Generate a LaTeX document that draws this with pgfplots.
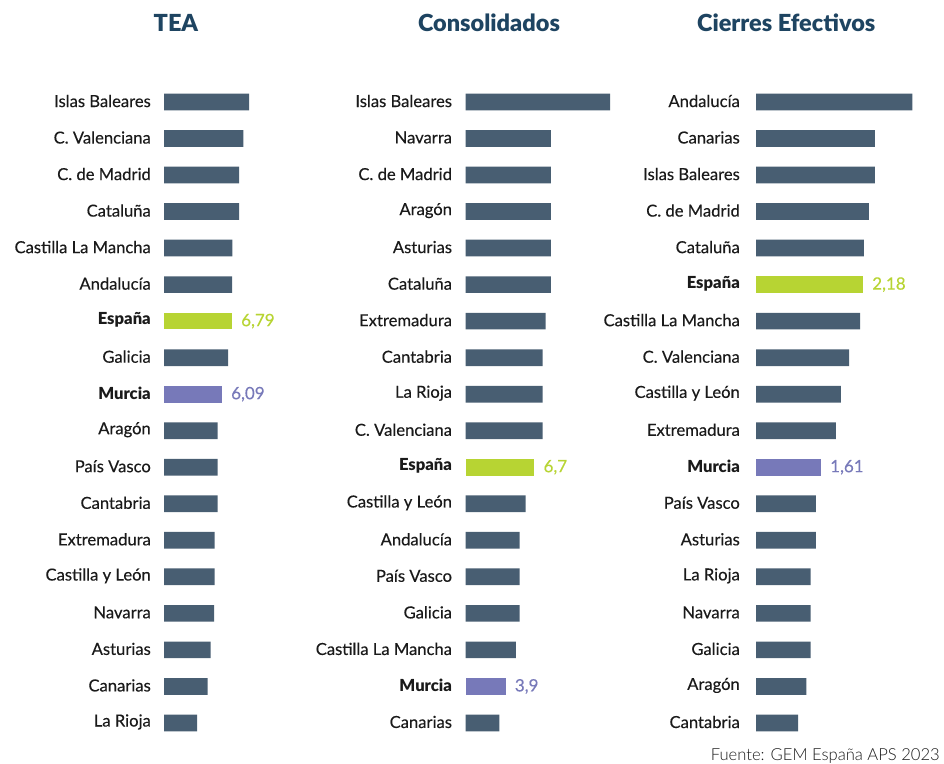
\documentclass[border=0pt]{standalone}
\usepackage{pgfplots}
\pgfplotsset{compat=1.18}
\usepackage{fontspec}
\setmainfont{Lato}
\newfontfamily\heavy{Lato Black}
\newfontfamily\med{Lato}[FakeBold=0.3]
\newfontfamily\light{Lato Light}
\definecolor{barc}{HTML}{485E72}
\definecolor{espc}{HTML}{B7D433}
\definecolor{murc}{HTML}{7779B9}
\definecolor{titc}{HTML}{1E4461}
\definecolor{labc}{HTML}{1A1A1A}
\definecolor{srcc}{HTML}{1A1A1A}
\pgfplotsset{
  panel/.style={
    xbar, bar width=16.7pt, bar shift=0pt,
    scale only axis, height=657.5pt,
    ymin=-0.5, ymax=17.5, y dir=reverse,
    ytick={0,...,17}, xtick=\empty,
    enlargelimits=false,
    axis line style={draw=none}, major tick length=0pt,
    yticklabel style={font=\fontsize{16.6}{18}\selectfont\med, text=labc, inner sep=0pt, anchor=east, yshift=1pt},
    anchor=north west,
    title style={font=\fontsize{23.5}{26}\selectfont\heavy, text=titc, anchor=base},
  },
  valnode/.style={
    point meta=x,
    nodes near coords={\pgfmathprintnumber[use comma,fixed,precision=2,assume math mode=true]{\pgfplotspointmeta}},
    nodes near coords style={anchor=west, inner sep=0pt, xshift=9pt, font=\fontsize{17}{19}\selectfont\med, text=#1},
  },
}
\begin{document}
\begin{tikzpicture}
\path[use as bounding box] (0,0) rectangle (944pt,-763pt);
% ---------------- TEA
\begin{axis}[panel, at={(164pt,-83.7pt)}, width=130pt, xmin=2.03, xmax=11.13,
  title={TEA}, title style={at={(axis description cs:0.092,1.0706)}},
  yticklabel style={xshift=-13pt},
  yticklabels={Islas Baleares, C. Valenciana, C. de Madrid, Cataluña, Castilla La Mancha, Andalucía, {\heavy España}, Galicia, {\heavy Murcia}, Aragón, País Vasco, Cantabria, Extremadura, Castilla y León, Navarra, Asturias, Canarias, La Rioja}]
\addplot[fill=barc, draw=none] coordinates {(7.98,0) (7.58,1) (7.29,2) (7.28,3) (6.81,4) (6.80,5) (6.51,7) (5.79,9) (5.79,10) (5.78,11) (5.58,12) (5.57,13) (5.53,14) (5.30,15) (5.09,16) (4.34,17)};
\addplot[fill=espc, draw=none, valnode=espc] coordinates {(6.79,6)};
\addplot[fill=murc, draw=none, valnode=murc] coordinates {(6.09,8)};
\end{axis}
% ---------------- Consolidados
\begin{axis}[panel, at={(465.7pt,-83.7pt)}, width=200pt, xmin=0, xmax=19.51,
  title={Consolidados}, title style={at={(axis description cs:0.1165,1.0706)}},
  yticklabel style={xshift=-13.5pt},
  yticklabels={Islas Baleares, Navarra, C. de Madrid, Aragón, Asturias, Cataluña, Extremadura, Cantabria, La Rioja, C. Valenciana, {\heavy España}, Castilla y León, Andalucía, País Vasco, Galicia, Castilla La Mancha, {\heavy Murcia}, Canarias}]
\addplot[fill=barc, draw=none] coordinates {(14.1,0) (8.3,1) (8.3,2) (8.3,3) (8.3,4) (8.3,5) (7.8,6) (7.5,7) (7.5,8) (7.5,9) (5.85,11) (5.27,12) (5.27,13) (5.27,14) (4.9,15) (3.28,17)};
\addplot[fill=espc, draw=none, valnode=espc] coordinates {(6.7,10)};
\addplot[fill=murc, draw=none, valnode=murc] coordinates {(3.9,16)};
\end{axis}
% ---------------- Cierres Efectivos
\begin{axis}[panel, name=c3, at={(756pt,-83.7pt)}, width=180pt, xmin=0.728, xmax=3.170,
  title={Cierres Efectivos}, title style={at={(axis description cs:0.168,1.0706)}},
  yticklabel style={xshift=-16pt},
  yticklabels={Andalucía, Canarias, Islas Baleares, C. de Madrid, Cataluña, {\heavy España}, Castilla La Mancha, C. Valenciana, Castilla y León, Extremadura, {\heavy Murcia}, País Vasco, Asturias, La Rioja, Navarra, Galicia, Aragón, Cantabria}]
\addplot[fill=barc, draw=none] coordinates {(2.85,0) (2.34,1) (2.34,2) (2.26,3) (2.19,4) (2.14,6) (1.99,7) (1.88,8) (1.81,9) (1.54,11) (1.54,12) (1.47,13) (1.47,14) (1.47,15) (1.41,16) (1.30,17)};
\addplot[fill=espc, draw=none, valnode=espc] coordinates {(2.18,5)};
\addplot[fill=murc, draw=none, valnode=murc] coordinates {(1.61,10)};
\end{axis}
\node[anchor=base east, inner sep=0pt, font=\fontsize{16.6}{18}\selectfont\light, text=srcc] at ([xshift=4pt,yshift=-18.8pt]c3.south east) {Fuente: GEM España APS 2023};
\end{tikzpicture}
\end{document}
